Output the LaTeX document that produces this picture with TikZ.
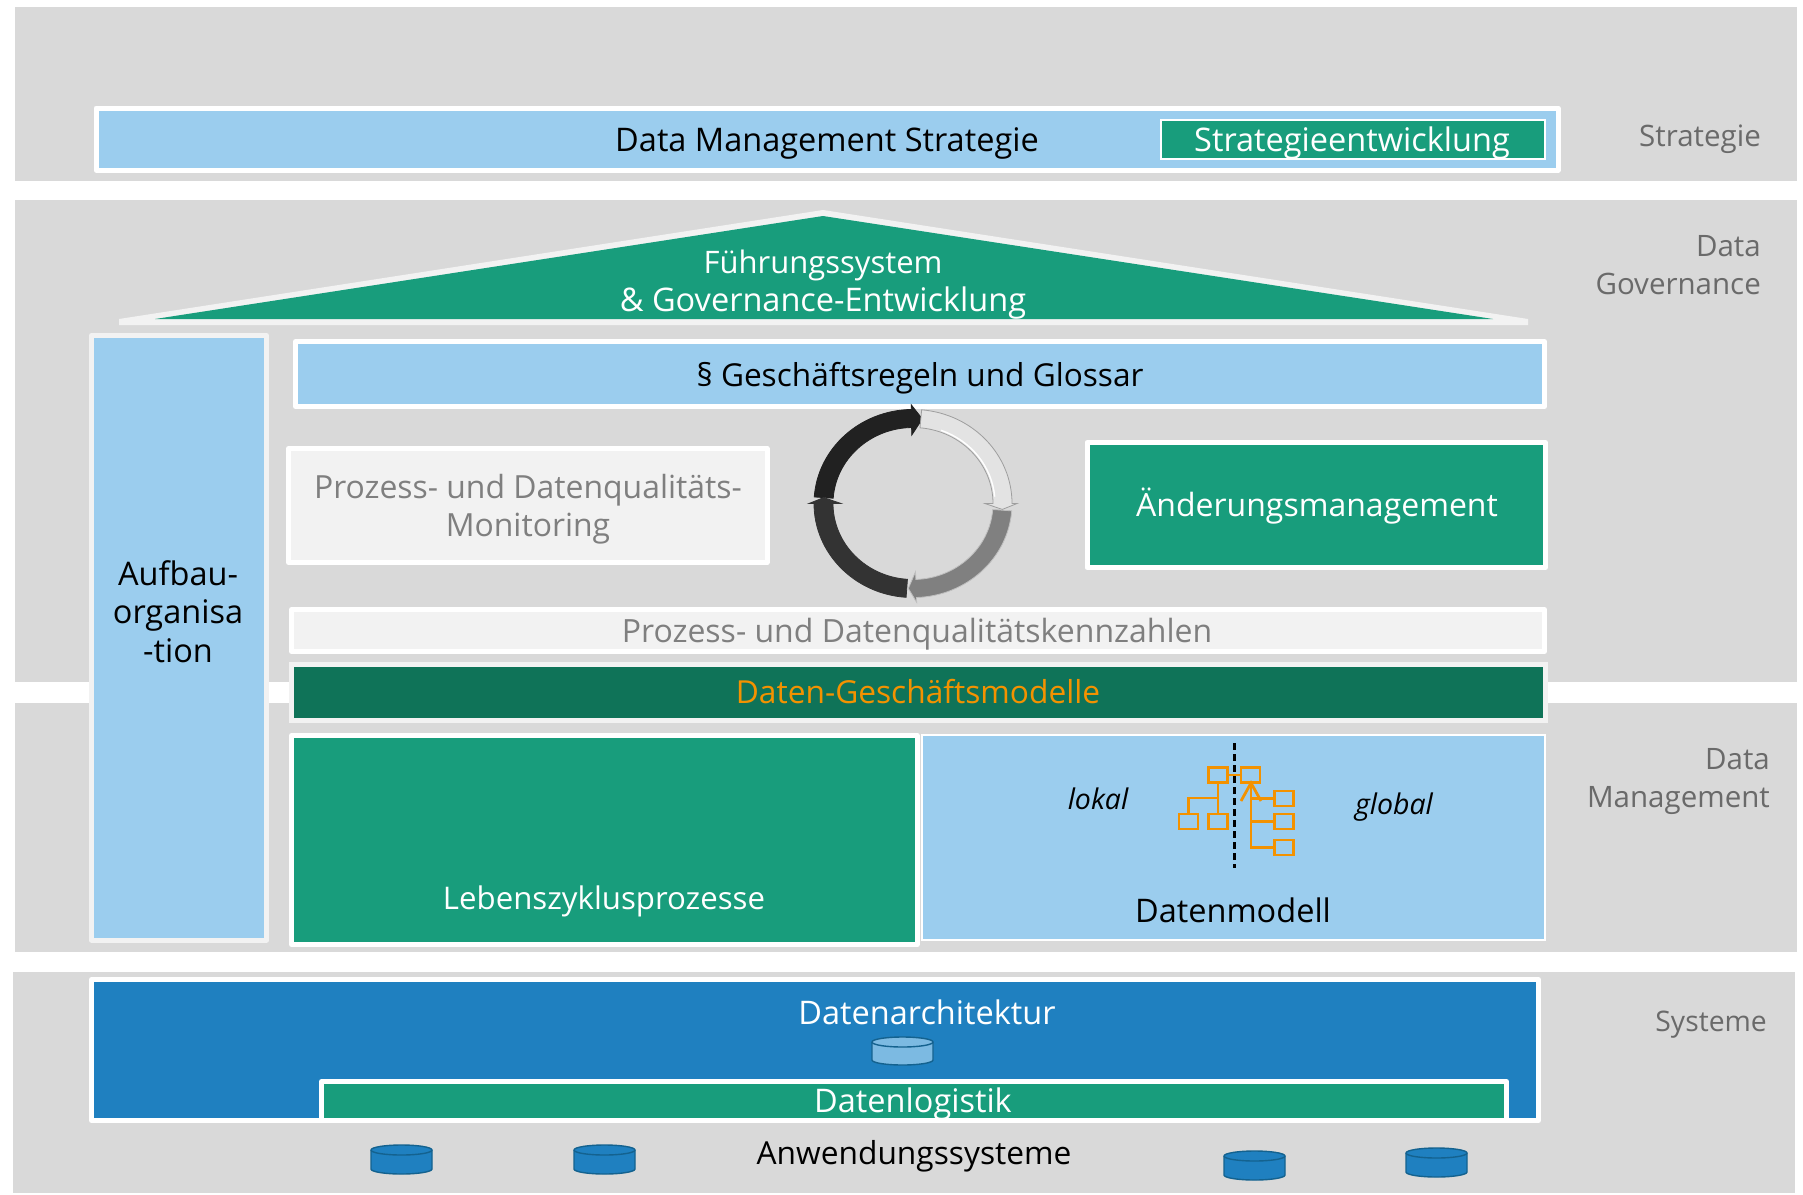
\documentclass[tikz,border=0pt]{standalone}
\usepackage{fontspec}
\setmainfont{Open Sans}
\definecolor{band}{HTML}{D9D9D9}
\definecolor{lblue}{HTML}{9BCDEE}
\definecolor{mgreen}{HTML}{189D7C}
\definecolor{dgreen}{HTML}{0F7358}
\definecolor{sblue}{HTML}{1F80C0}
\definecolor{dblue}{HTML}{14628F}
\definecolor{pale}{HTML}{F2F2F2}
\definecolor{orng}{HTML}{F39200}
\definecolor{gtxt}{HTML}{7F7F7F}
\definecolor{stxt}{HTML}{6A6A6A}
\tikzset{
  bandbox/.style={fill=band,draw=none},
  wbox/.style={draw=white,line width=5pt,line join=round},
  pbox/.style={draw=pale,line width=5pt,line join=round},
  lab/.style={anchor=base,inner sep=0pt,font=\fontsize{32.5}{36}\selectfont,align=center},
  fsz/.style={font=\fontsize{#1}{36}\selectfont},
  side/.style={anchor=base east,inner sep=0pt,font=\fontsize{29.5}{32}\selectfont,text=stxt},
  small/.style={anchor=base,inner sep=0pt,font=\fontsize{28.5}{31}\selectfont\itshape},
  ob/.style={draw=orng,line width=2.4pt,minimum width=19pt,minimum height=15pt,inner sep=0pt,fill=none},
  ol/.style={draw=orng,line width=2.4pt},
  cyl/.style={draw=dblue,line width=1.4pt,fill=sblue},
}
% \ringarrow{start}{head base}{tip}{fill}{outline}
\newcommand{\ringarrow}[5]{%
  \filldraw[fill=#4,draw=#5,line width=.8pt,line join=miter]
    (#1:99pt) arc[start angle=#1,end angle=#2,radius=99pt]
    -- (#2:104pt) -- (#3:89.5pt) -- (#2:72pt) -- (#2:80pt)
    arc[start angle=#2,end angle=#1,radius=80pt] -- cycle;}
% \cylshape{x1}{x2}{ytop}{ybottom}{fill}
\newcommand{\cylshape}[5]{%
  \pgfmathsetmacro{\crx}{(#2-#1)/2}
  \filldraw[cyl,fill=#5] (#1,#3+5) -- (#1,#4-5)
     arc[start angle=180,end angle=360,x radius=\crx pt,y radius=5pt]
     -- (#2,#3+5) arc[start angle=0,end angle=180,x radius=\crx pt,y radius=5pt] -- cycle;
  \draw[cyl,fill=none] (#1,#3+5) arc[start angle=180,end angle=360,x radius=\crx pt,y radius=5pt];}
\begin{document}
\begin{tikzpicture}[x=1pt,y=-1pt]
\useasboundingbox (0,0) rectangle (1803,1194);
% bands
\fill[bandbox] (15,7) rectangle (1797,181);
\fill[bandbox] (15,200) rectangle (1797,682);
\fill[bandbox] (15,703) rectangle (1797,952);
\fill[bandbox] (13,972) rectangle (1795,1193);
% strategy
\filldraw[wbox,fill=lblue] (96,108) rectangle (1558,170);
\filldraw[draw=white,line width=1.2pt,fill=mgreen] (1161,120) rectangle (1545,159);
\node[lab] (dms) at (827,151) {Data Management Strategie};
\node[lab,text=white] (sent) at (1352,151) {Strategieentwicklung};
% roof
\fill[pale] (823,210) -- (1528,319) -- (1528,325) -- (119,325) -- (119,319) -- cycle;
\fill[mgreen] (823,216) -- (1493,319) -- (155,319) -- cycle;
\node[lab,fsz=31,text=white] (fs1) at (823,273) {Führungssystem};
\node[lab,text=white] (fs2) at (823,311) {\& Governance-Entwicklung};
% Aufbau
\filldraw[pbox,fill=lblue] (91.5,335.5) rectangle (266.5,940);
\node[lab] (auf1) at (178,585) {Aufbau-};
\node[lab] (auf2) at (178,623) {organisa};
\node[lab] (auf3) at (178,662) {-tion};
% rules
\filldraw[wbox,fill=lblue] (295.5,341.5) rectangle (1544.5,406.5);
\node[lab,fsz=31.6] (ges) at (920,386) {§ Geschäftsregeln und Glossar};
% monitoring
\filldraw[wbox,fill=pale] (288.5,448.5) rectangle (767,562.5);
\node[lab,fsz=31.9,text=gtxt] (mon1) at (528,498) {Prozess- und Datenqualitäts-};
\node[lab,fsz=31.9,text=gtxt] (mon2) at (528,536) {Monitoring};
% change
\filldraw[wbox,fill=mgreen] (1087,442.5) rectangle (1545.5,567.5);
\node[lab,fsz=32,text=white] (chg) at (1317,516) {Änderungsmanagement};
% ring
\begin{scope}[shift={(913,503.5)},yscale=.95]
\ringarrow{176}{91}{84}{black!87}{black!87}
\ringarrow{85}{0}{-4}{black!11}{black!38}
\ringarrow{-4.5}{-88}{-93}{black!50}{black!25}
\ringarrow{-94}{-180}{-184}{black!80}{black!80}
\draw[white,line width=1.4pt] (70:82pt) arc[start angle=70,end angle=5,radius=82pt];
\end{scope}
% KPI
\filldraw[wbox,fill=pale] (291.5,609.5) rectangle (1544.5,651.5);
\node[lab,fsz=32,text=gtxt] (kpi) at (917,642) {Prozess- und Datenqualitätskennzahlen};
% business models
\filldraw[draw=pale,line width=5pt,fill=dgreen] (291.5,664) rectangle (1545.5,720);
\node[lab,fsz=31.7,text=orng] (dgm) at (918,703) {Daten-Geschäftsmodelle};
% life cycle
\filldraw[pbox,draw=white,fill=mgreen] (291.5,735.5) rectangle (917,944.5);
\node[lab,fsz=31.2,text=white] (leb) at (604,909) {Lebenszyklusprozesse};
% data model
\filldraw[draw=white,line width=1.2pt,fill=lblue] (922,735) rectangle (1545,940);
\node[lab] (dmo) at (1233,922) {Datenmodell};
\node[small] (lok) at (1098,809) {lokal};
\node[small] (glo) at (1394,814) {global};
\coordinate (dashT) at (1234.5,743);
\coordinate (dashB) at (1234.5,868);
\draw[black,line width=2.2pt,dash pattern=on 7pt off 4pt] (dashT) -- (dashB);
\node[ob] (tl) at (1218,775) {};
\node[ob] (tr) at (1250.5,775) {};
\node[ob] (l1) at (1188.5,821.5) {};
\node[ob] (l2) at (1218,821.5) {};
\node[ob] (r1) at (1284,798.5) {};
\node[ob] (r2) at (1284,821.5) {};
\node[ob] (r3) at (1284,847.5) {};
\draw[ol] (tl) -- (tr);
\draw[ol] (tl) -- (l2);
\draw[ol] (l2 |- 0,798) -| (l1);
\draw[ol,line width=2.8pt] (tr.south -| 1251,0) -- (1251,847.5) -- (r3);
\draw[ol] (1251,798.5) -- (r1);
\draw[ol] (1251,821.5) -- (r2);
\draw[ol,line width=2.8pt,line cap=butt] (1241,801) -- (1251,783) -- (1261,801);
% systems
\filldraw[wbox,fill=sblue] (91.5,979.5) rectangle (1538.5,1120.5);
\filldraw[wbox,fill=mgreen] (321.5,1081.5) rectangle (1506.5,1120.5);
\node[lab,text=white] (darch) at (927,1024) {Datenarchitektur};
\node[lab,text=white] (dlog) at (913,1112) {Datenlogistik};
\node[lab,fsz=31.7] (anw) at (914,1164) {Anwendungssysteme};
\cylshape{872}{933}{1037}{1065}{lblue!75!sblue}
\cylshape{371}{432}{1145}{1174}{sblue}
\cylshape{574}{635}{1145}{1174}{sblue}
\cylshape{1224}{1285}{1151}{1180}{sblue}
\cylshape{1406}{1467}{1148}{1177}{sblue}
% side labels
\node[side] (s1) at (1761,146) {Strategie};
\node[side] (s2) at (1761,256) {Data};
\node[side] (s3) at (1761,294) {Governance};
\node[side] (s4) at (1770,769) {Data};
\node[side] (s5) at (1770,807) {Management};
\node[side,font=\fontsize{28.3}{32}\selectfont] (s6) at (1767,1031) {Systeme};
\end{tikzpicture}
\end{document}
